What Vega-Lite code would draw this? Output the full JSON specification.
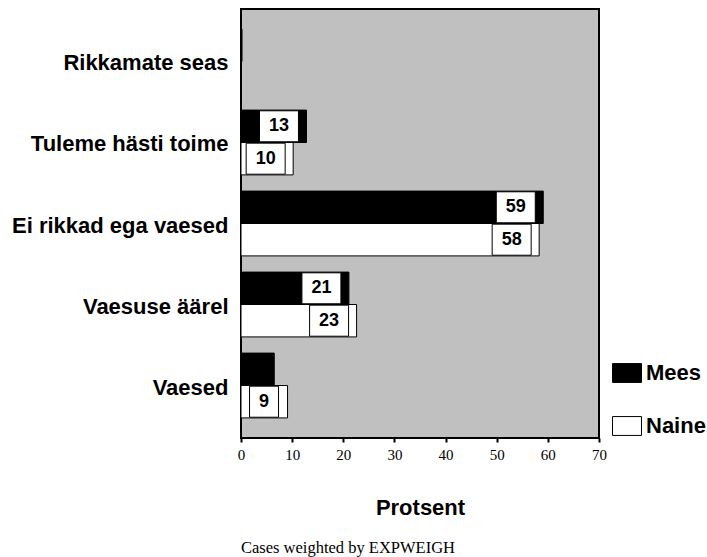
{
  "$schema": "https://vega.github.io/schema/vega-lite/v6.json",
  "width": 358,
  "height": 429,
  "autosize": "none",
  "padding": {"left": 241, "top": 9, "right": 108, "bottom": 119},
  "background": "white",
  "title": {
    "text": "Cases weighted by EXPWEIGH",
    "orient": "bottom",
    "anchor": "start",
    "frame": "group",
    "font": "Liberation Serif",
    "fontSize": 16.5,
    "fontWeight": "normal",
    "color": "black",
    "offset": 22
  },
  "config": {
    "view": {"fill": "#c0c0c0", "stroke": "black", "strokeWidth": 2},
    "axis": {"grid": false, "domain": false, "labelColor": "black", "titleColor": "black"}
  },
  "data": {
    "values": [
      {"category": "Rikkamate seas", "sex": "Mees", "value": 0.2, "label": ""},
      {"category": "Rikkamate seas", "sex": "Naine", "value": 0, "label": ""},
      {"category": "Tuleme hästi toime", "sex": "Mees", "value": 12.8, "label": "13"},
      {"category": "Tuleme hästi toime", "sex": "Naine", "value": 10.2, "label": "10"},
      {"category": "Ei rikkad ega vaesed", "sex": "Mees", "value": 59.1, "label": "59"},
      {"category": "Ei rikkad ega vaesed", "sex": "Naine", "value": 58.3, "label": "58"},
      {"category": "Vaesuse äärel", "sex": "Mees", "value": 21.1, "label": "21"},
      {"category": "Vaesuse äärel", "sex": "Naine", "value": 22.6, "label": "23"},
      {"category": "Vaesed", "sex": "Mees", "value": 6.5, "label": ""},
      {"category": "Vaesed", "sex": "Naine", "value": 9.1, "label": "9"}
    ]
  },
  "encoding": {
    "y": {
      "field": "category",
      "type": "nominal",
      "sort": ["Rikkamate seas", "Tuleme hästi toime", "Ei rikkad ega vaesed", "Vaesuse äärel", "Vaesed"],
      "scale": {"paddingInner": 0.2, "paddingOuter": 0.248},
      "axis": {
        "title": null,
        "ticks": false,
        "tickSize": 0,
        "labelPadding": 13,
        "labelOffset": 2,
        "labelFont": "Liberation Sans",
        "labelFontWeight": "bold",
        "labelFontSize": 22,
        "labelLimit": 300
      }
    },
    "yOffset": {"field": "sex", "type": "nominal", "sort": ["Mees", "Naine"], "scale": {"paddingInner": 0, "paddingOuter": 0}},
    "x": {
      "field": "value",
      "type": "quantitative",
      "scale": {"domain": [0, 70], "nice": false},
      "axis": {
        "title": "Protsent",
        "values": [0, 10, 20, 30, 40, 50, 60, 70],
        "tickColor": "black",
        "tickSize": 4,
        "tickWidth": 2,
        "labelPadding": 5,
        "labelFont": "Liberation Serif",
        "labelFontSize": 15,
        "labelFlush": false,
        "titleFont": "Liberation Sans",
        "titleFontWeight": "bold",
        "titleFontSize": 22,
        "titlePadding": 35
      }
    }
  },
  "layer": [
    {
      "mark": {"type": "bar", "stroke": "black", "strokeWidth": 1},
      "encoding": {
        "fill": {
          "field": "sex",
          "type": "nominal",
          "scale": {"domain": ["Mees", "Naine"], "range": ["black", "white"]},
          "legend": {
            "title": null,
            "orient": "none",
            "legendX": 371,
            "legendY": 349,
            "symbolType": "M-1,-0.65H1V0.65H-1Z",
            "symbolSize": 841,
            "symbolStrokeColor": "black",
            "symbolStrokeWidth": 1,
            "symbolOpacity": 1,
            "labelFont": "Liberation Sans",
            "labelFontWeight": "bold",
            "labelFontSize": 22,
            "labelColor": "black",
            "labelOffset": 4,
            "rowPadding": 26
          }
        }
      }
    },
    {
      "transform": [{"filter": "length(datum.label) == 2"}],
      "mark": {"type": "point", "filled": true, "fill": "white", "stroke": "black", "strokeWidth": 1, "opacity": 1, "shape": "M-1,-0.795H1V0.795H-1Z", "size": 1521, "xOffset": -27.5}
    },
    {
      "transform": [{"filter": "length(datum.label) == 1"}],
      "mark": {"type": "point", "filled": true, "fill": "white", "stroke": "black", "strokeWidth": 1, "opacity": 1, "shape": "M-1,-1.07H1V1.07H-1Z", "size": 841, "xOffset": -23.5}
    },
    {
      "transform": [{"filter": "length(datum.label) == 2"}],
      "mark": {"type": "text", "font": "Liberation Sans", "fontWeight": "bold", "fontSize": 18, "color": "black", "xOffset": -27.5, "baseline": "middle", "align": "center"},
      "encoding": {"text": {"field": "label"}}
    },
    {
      "transform": [{"filter": "length(datum.label) == 1"}],
      "mark": {"type": "text", "font": "Liberation Sans", "fontWeight": "bold", "fontSize": 18, "color": "black", "xOffset": -23.5, "baseline": "middle", "align": "center"},
      "encoding": {"text": {"field": "label"}}
    }
  ]
}
